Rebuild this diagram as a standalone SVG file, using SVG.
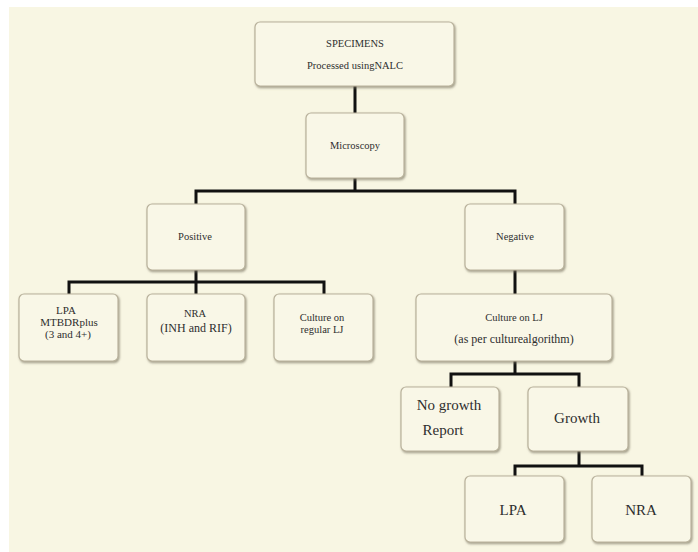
<svg xmlns="http://www.w3.org/2000/svg" width="698" height="552" viewBox="0 0 698 552">
<defs>
<filter id="sh" x="-10%" y="-10%" width="125%" height="130%">
<feDropShadow dx="1" dy="1.5" stdDeviation="0.8" flood-color="#7a7360" flood-opacity="0.7"/>
</filter>
</defs>
<style>
.bx{fill:#f9f7e7;stroke:#b9b29c;stroke-width:1.2;filter:url(#sh)}
.t{font-family:"Liberation Serif","Times New Roman",serif;fill:#2e2e2e;text-anchor:middle}
.s{font-size:10.5px}
.m{font-size:12px}
.n{font-size:11px}
.l{font-size:15px}
.c{fill:none;stroke:#111;stroke-width:3;stroke-linejoin:miter;stroke-linecap:square}
</style>
<rect x="0" y="0" width="698" height="552" fill="#ffffff"/>
<rect x="9" y="7" width="689" height="545" fill="#f8f6e3"/>
<g id="connectors">
<path class="c" d="M355 86 V113"/>
<path class="c" d="M355 178 V191 M196 204 V191 H515 V204"/>
<path class="c" d="M196 270 V294 M69 294 V282 H324 V294"/>
<path class="c" d="M515 270 V294"/>
<path class="c" d="M515 361 V374 M451 387 V374 H579 V387"/>
<path class="c" d="M579 451 V466 M515 476 V466 H642 V476"/>
</g>
<g id="specimens"><rect class="bx" x="255" y="22" width="199" height="64" rx="5"/>
<text class="t s" x="355" y="47">SPECIMENS</text><text class="t s" x="355" y="69">Processed usingNALC</text></g>
<g id="microscopy"><rect class="bx" x="306" y="113" width="98" height="65" rx="5"/>
<text class="t s" x="355" y="149">Microscopy</text></g>
<g id="positive"><rect class="bx" x="147" y="204" width="98" height="66" rx="5"/>
<text class="t s" x="195" y="240">Positive</text></g>
<g id="negative"><rect class="bx" x="465" y="204" width="99" height="66" rx="5"/>
<text class="t s" x="515" y="240">Negative</text></g>
<g id="lpa1"><rect class="bx" x="19" y="294" width="99" height="67" rx="5"/>
<text class="t n" x="66" y="314">LPA</text><text class="t n" x="69" y="326">MTBDRplus</text><text class="t n" x="68" y="338">(3 and 4+)</text></g>
<g id="nra1"><rect class="bx" x="147" y="294" width="98" height="67" rx="5"/>
<text class="t s" x="195" y="317">NRA</text><text class="t m" x="196" y="332">(INH and RIF)</text></g>
<g id="culture-regular"><rect class="bx" x="274" y="294" width="99" height="67" rx="5"/>
<text class="t s" x="322" y="321">Culture on</text><text class="t s" x="322" y="333">regular LJ</text></g>
<g id="culture-lj"><rect class="bx" x="416" y="294" width="196" height="67" rx="5"/>
<text class="t s" x="514" y="321">Culture on LJ</text><text class="t m" x="514" y="343">(as per culturealgorithm)</text></g>
<g id="nogrowth"><rect class="bx" x="401" y="387" width="98" height="64" rx="5"/>
<text class="t l" x="449" y="410">No growth</text><text class="t l" x="443" y="435">Report</text></g>
<g id="growth"><rect class="bx" x="528" y="387" width="100" height="64" rx="5"/>
<text class="t l" x="577" y="423">Growth</text></g>
<g id="lpa2"><rect class="bx" x="465" y="476" width="99" height="66" rx="5"/>
<text class="t l" x="513" y="515">LPA</text></g>
<g id="nra2"><rect class="bx" x="592" y="476" width="99" height="66" rx="5"/>
<text class="t l" x="641" y="515">NRA</text></g>
</svg>
